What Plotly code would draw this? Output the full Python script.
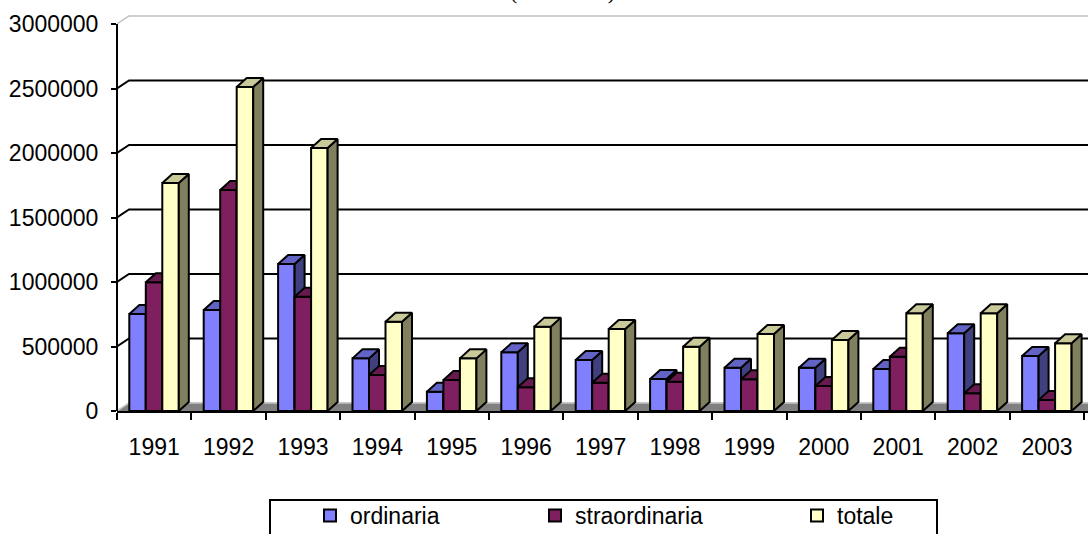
import plotly.graph_objects as go

# ---------------- data ----------------
years = ["1991", "1992", "1993", "1994", "1995", "1996", "1997",
         "1998", "1999", "2000", "2001", "2002", "2003"]
ordinaria = [752000, 783000, 1140000, 408000, 150000, 455000, 395000,
             248000, 336000, 336000, 326000, 602000, 426000]
straordinaria = [998000, 1713000, 886000, 279000, 240000, 184000, 219000,
                 227000, 246000, 194000, 421000, 137000, 85000]
totale = [1767000, 2512000, 2039000, 692000, 408000, 654000, 636000,
          498000, 597000, 550000, 757000, 757000, 525000]
y_ticks = [0, 500000, 1000000, 1500000, 2000000, 2500000, 3000000]
series_names = ["ordinaria", "straordinaria", "totale"]
title_text = "(valori in €)"

# ---------------- geometry / style ----------------
W, H = 1088, 534
L_PX = 117                     # left edge of plot area
Y0_PX = 411                    # pixel row of value 0
CAT_PX = 74.4                  # pixels per category
PLOT_W = W - L_PX
PX_PER_VAL = 387 / 3000000.0
XMAX = PLOT_W / CAT_PX
YMAX = Y0_PX / PX_PER_VAL

BAR_W = 16.5 / CAT_PX
GROUP_OFF = 12.3 / CAT_PX
BAR_DX = 10 / CAT_PX
BAR_DY = 9 / PX_PER_VAL
WALL_DX = 12 / CAT_PX
WALL_DY = 8 / PX_PER_VAL

FONT = "Liberation Sans, Arial, sans-serif"
FS = 23

colors = [
    dict(front="#8080FF", side="#40407F", top="#6363C6"),
    dict(front="#801F60", side="#4E133A", top="#661A4D"),
    dict(front="#FFFFC6", side="#80805F", top="#C9C99A"),
]

fig = go.Figure()

# floor
fig.add_trace(go.Scatter(
    x=[0, XMAX + 1, XMAX + 1, WALL_DX, 0],
    y=[0, 0, WALL_DY, WALL_DY, 0],
    mode="lines", fill="toself", fillcolor="#808080",
    line=dict(color="#808080", width=1), hoverinfo="skip", showlegend=False))
fig.add_trace(go.Scatter(
    x=[0, WALL_DX, XMAX + 1], y=[0, WALL_DY, WALL_DY],
    mode="lines", line=dict(color="#C8C8C8", width=1.5),
    hoverinfo="skip", showlegend=False))

# back-wall gridlines and left-wall diagonals
gx, gy = [], []
for v in y_ticks[1:-1]:
    gx += [0, WALL_DX, XMAX + 1, None]
    gy += [v, v + WALL_DY, v + WALL_DY, None]
fig.add_trace(go.Scatter(x=gx, y=gy, mode="lines",
                         line=dict(color="black", width=2),
                         hoverinfo="skip", showlegend=False))
vt = y_ticks[-1]
fig.add_trace(go.Scatter(x=[0, WALL_DX, XMAX + 1], y=[vt, vt + WALL_DY, vt + WALL_DY],
                         mode="lines", line=dict(color="#C0C0C0", width=1.5),
                         hoverinfo="skip", showlegend=False))

# 3-D bars
all_series = [ordinaria, straordinaria, totale]
for s, vals in enumerate(all_series):
    fx, fy, sx, sy, tx, ty = [], [], [], [], [], []
    for i, v in enumerate(vals):
        x0 = i + GROUP_OFF + s * BAR_W
        x1 = x0 + BAR_W
        fx += [x0, x1, x1, x0, x0, None]
        fy += [0, 0, v, v, 0, None]
        sx += [x1, x1 + BAR_DX, x1 + BAR_DX, x1, x1, None]
        sy += [0, BAR_DY, v + BAR_DY, v, 0, None]
        tx += [x0, x1, x1 + BAR_DX, x0 + BAR_DX, x0, None]
        ty += [v, v, v + BAR_DY, v + BAR_DY, v, None]
    c = colors[s]
    for xs, ys, col in ((fx, fy, c["front"]), (sx, sy, c["side"]), (tx, ty, c["top"])):
        fig.add_trace(go.Scatter(
            x=xs, y=ys, mode="lines", fill="toself", fillcolor=col,
            line=dict(color="black", width=2), hoverinfo="skip",
            showlegend=False))

# legend entries (one legend per series, placed like the original)
legend_names = ["legend", "legend2", "legend3"]
for s, name in enumerate(series_names):
    fig.add_trace(go.Bar(
        x=[None], y=[None], name=name,
        marker=dict(color=colors[s]["front"], line=dict(color="black", width=2)),
        legend=legend_names[s], showlegend=True))

legend_left_px = [310, 535, 797]
leg_common = dict(orientation="h", yanchor="top", xanchor="left",
                  xref="container", yref="container",
                  bgcolor="rgba(0,0,0,0)", borderwidth=0,
                  font=dict(family=FONT, size=FS, color="black"))
layout_legends = {}
for s, ln in enumerate(legend_names):
    layout_legends[ln] = dict(leg_common, x=legend_left_px[s] / W, y=1 - 494 / H)

# legend frame
box_x0 = (270 - L_PX) / PLOT_W
box_x1 = (937 - L_PX) / PLOT_W
box_y0 = (Y0_PX - 500) / Y0_PX
box_y1 = (Y0_PX - 545) / Y0_PX

fig.update_layout(
    width=W, height=H,
    margin=dict(l=L_PX, r=0, t=0, b=H - Y0_PX, pad=0, autoexpand=False),
    paper_bgcolor="white", plot_bgcolor="white",
    font=dict(family=FONT, size=FS, color="black"),
    barmode="overlay",
    xaxis=dict(range=[0, XMAX], tickmode="array",
               tickvals=[i + 0.5 for i in range(len(years))], ticktext=years,
               ticks="", ticklen=0, showgrid=False, zeroline=False,
               showline=True, linecolor="black", linewidth=2,
               ticklabelstandoff=14,
               minor=dict(tickmode="array", tickvals=list(range(len(years) + 1)),
                          ticks="outside", ticklen=7, tickwidth=2,
                          tickcolor="black", showgrid=False),
               tickfont=dict(family=FONT, size=FS, color="black"),
               fixedrange=True),
    yaxis=dict(range=[0, YMAX], tickmode="array", tickvals=y_ticks,
               ticktext=[str(v) for v in y_ticks],
               ticks="outside", ticklen=5, tickwidth=2, tickcolor="black",
               ticklabelstandoff=8,
               showgrid=False, zeroline=False, showline=False,
               tickfont=dict(family=FONT, size=FS, color="black"),
               fixedrange=True),
    shapes=[
        dict(type="line", xref="paper", yref="y", x0=0, x1=0, y0=0, y1=y_ticks[-1],
             line=dict(color="black", width=2), layer="above"),
        dict(type="rect", xref="paper", yref="paper", x0=box_x0, x1=box_x1,
             y0=box_y0, y1=box_y1, line=dict(color="black", width=2),
             fillcolor="rgba(0,0,0,0)"),
    ],
    annotations=[
        dict(text=title_text, xref="paper", yref="paper",
             x=(562 - L_PX) / PLOT_W, y=1, xanchor="center", yanchor="bottom",
             yshift=-6, showarrow=False,
             font=dict(family="Liberation Serif, Times New Roman, serif", size=22,
                       color="black")),
    ],
    **layout_legends,
)

fig.write_html("out.html", config={"displayModeBar": False},
               post_script="document.body.style.margin='0';document.body.style.overflow='hidden';")
